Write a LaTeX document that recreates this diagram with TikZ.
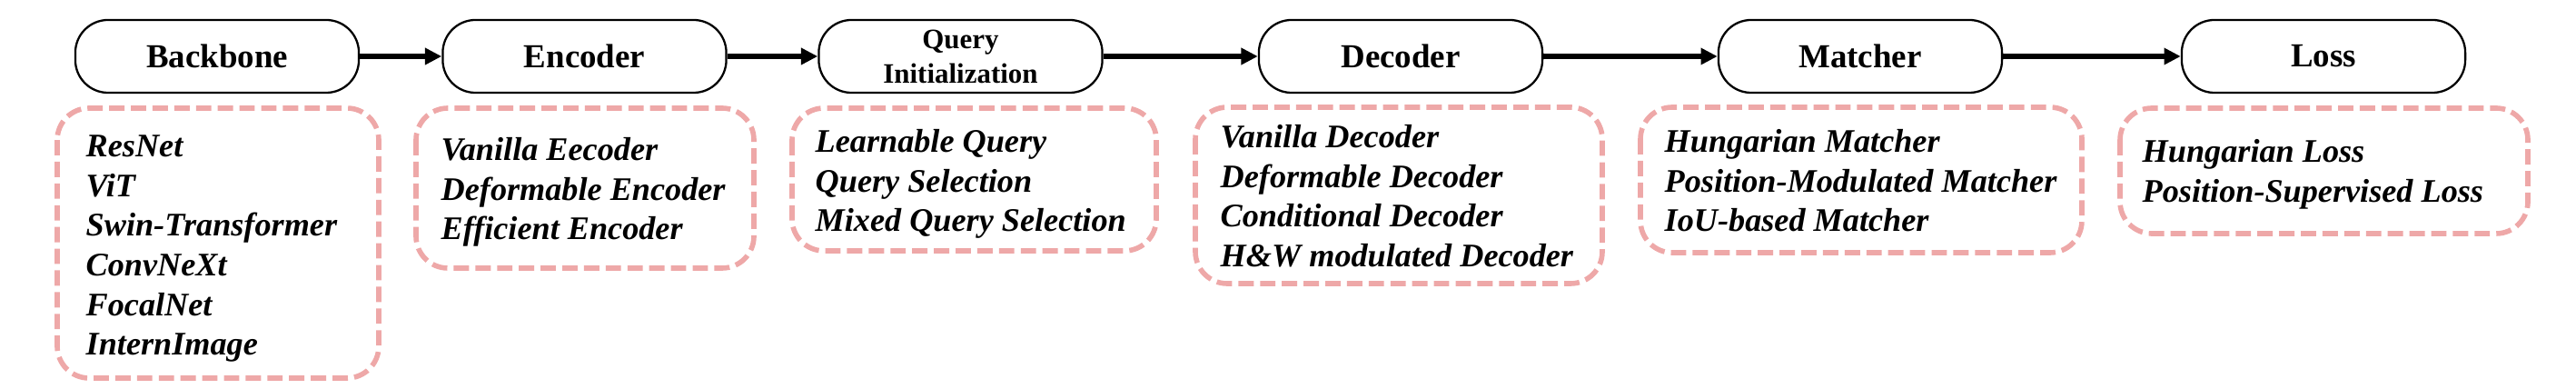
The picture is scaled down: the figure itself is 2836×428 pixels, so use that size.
\documentclass[tikz,border=0pt]{standalone}
\usepackage{fontspec}
\setmainfont{Liberation Serif}
\usetikzlibrary{arrows.meta}
\definecolor{boxpink}{RGB}{238,168,168}
\tikzset{
  pill/.style={draw=black, line width=0.65pt, rounded corners=0.36cm,
    minimum width=3.12cm, minimum height=0.8cm, inner sep=0pt,
    font=\fontsize{10.5}{12}\selectfont\bfseries, fill=white},
  smallpill/.style={pill, align=center, font=\fontsize{8.8}{10.8}\selectfont\bfseries},
  flow/.style={line width=1.6pt, -{Triangle[length=5.2pt,width=5pt]}},
  listbox/.style={draw=boxpink, line width=1.6pt, dash pattern=on 4.8pt off 2pt, rounded corners=0.35cm},
  listtext/.style={anchor=north west, inner sep=0pt, align=left, yshift=8.68pt,
    font=\fontsize{10.3}{12.4}\selectfont\bfseries\itshape}
}
\begin{document}
\begin{tikzpicture}[x=0.01cm, y=-0.01cm]
\useasboundingbox (0,0) rectangle (2836,428);
% pipeline
\node[pill] (bb) at (239,62) {Backbone};
\node[pill] (enc) at (643.5,62) {Encoder};
\node[smallpill] (qi) at (1057.5,62) {Query\\Initialization};
\node[pill] (dec) at (1542,62) {Decoder};
\node[pill] (mat) at (2048,62) {Matcher};
\node[pill] (loss) at (2558,62) {Loss};
\draw[flow] (bb) -- (enc);
\draw[flow] (enc) -- (qi);
\draw[flow] (qi) -- (dec);
\draw[flow] (dec) -- (mat);
\draw[flow] (mat) -- (loss);
% dashed boxes
\draw[listbox] (63,119) rectangle (417,416);
\draw[listbox] (458,119) rectangle (830,295);
\draw[listbox] (872,119) rectangle (1273,276);
\draw[listbox] (1316,118) rectangle (1764,312);
\draw[listbox] (1806,118) rectangle (2292,278);
\draw[listbox] (2334,119) rectangle (2783,257);
% lists
\node[listtext] (bbl) at (94,172) {\strut ResNet\\ViT\\Swin-Transformer\\ConvNeXt\\FocalNet\\InternImage};
\node[listtext] (encl) at (485,176) {\strut Vanilla Eecoder\\Deformable Encoder\\Efficient Encoder};
\node[listtext] (qil) at (897,167) {\strut Learnable Query\\Query Selection\\Mixed Query Selection};
\node[listtext] (decl) at (1343,162) {\strut Vanilla Decoder\\Deformable Decoder\\Conditional Decoder\\H\&W modulated Decoder};
\node[listtext] (matl) at (1832,167) {\strut Hungarian Matcher\\Position-Modulated Matcher\\IoU-based Matcher};
\node[listtext] (lossl) at (2358,178) {\strut Hungarian Loss\\Position-Supervised Loss};
\end{tikzpicture}
\end{document}
